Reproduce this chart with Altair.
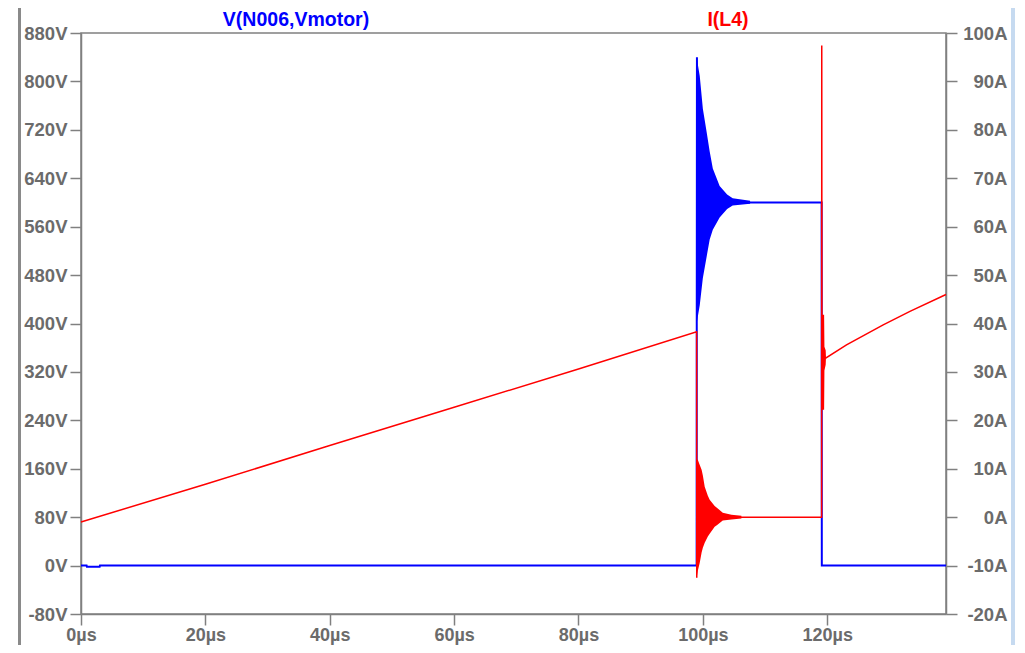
import altair as alt
import pandas as pd

# ---------------- data ----------------
# V(N006,Vmotor)  [V] vs time [us]
v_t = [0, 0.9, 0.95, 3.0, 3.05, 99.0, 99.02, 99.05, 99.1, 119.1, 119.13, 139.1]
v_val = [0, 0, -2, -2, 0, 0, 400, 840, 600, 600, 0, 0]

# ringing envelope of V after switch-off
vr_t = [99.0, 99.5, 100.0, 100.6, 101.1, 101.6, 102.7, 103.9, 104.8, 107.6]
vr_hi = [840, 809, 755, 717, 684, 656, 627, 613, 607, 603]
vr_lo = [400, 430, 475, 510, 539, 555, 575, 589, 595, 598]

# I(L4)  [A] vs time [us]
i_t = [0, 20, 40, 60, 80, 99.0, 99.02, 99.05, 119.1, 119.12, 119.15, 119.8,
       123.1, 129.0, 133.3, 139.1]
i_val = [-1.0, 6.8, 14.8, 22.7, 30.6, 38.3, -12.5, 0, 0, 97.4, 33.0, 32.9,
         35.6, 39.7, 42.5, 46.0]

# ringing envelope of I after switch-off
ir1_t = [99.0, 99.2, 99.5, 99.8, 100.0, 100.3, 100.8, 101.1, 101.9, 102.3, 103.2, 104.6, 106.2]
ir1_hi = [12.0, 11.8, 10.8, 9.8, 8.6, 6.3, 4.4, 3.6, 2.3, 1.9, 0.9, 0.5, 0.3]
ir1_lo = [-12.5, -11.0, -9.4, -7.3, -6.3, -5.3, -4.0, -3.4, -2.0, -1.6, -0.7, -0.5, -0.3]

# ringing envelope of I after switch-on
ir2_t = [119.1, 119.5, 119.55, 119.75, 119.8]
ir2_hi = [41.8, 41.8, 35.2, 34.5, 33.0]
ir2_lo = [22.2, 22.2, 30.3, 31.5, 33.0]

# axes
x_ticks = [0, 20, 40, 60, 80, 100, 120]
v_ticks = [-80, 0, 80, 160, 240, 320, 400, 480, 560, 640, 720, 800, 880]
i_ticks = [-20, -10, 0, 10, 20, 30, 40, 50, 60, 70, 80, 90, 100]
trace_names = ["V(N006,Vmotor)", "I(L4)"]

# ---------------- tables ----------------
v_df = pd.DataFrame({"t": v_t, "v": v_val, "i": range(len(v_t))})
vr_df = pd.DataFrame({"t": vr_t, "hi": vr_hi, "lo": vr_lo})
i_df = pd.DataFrame({"t": i_t, "a": i_val, "i": range(len(i_t))})
ir_df = pd.concat([
    pd.DataFrame({"t": ir1_t, "hi": ir1_hi, "lo": ir1_lo, "seg": "a"}),
    pd.DataFrame({"t": ir2_t, "hi": ir2_hi, "lo": ir2_lo, "seg": "b"}),
])

BLUE = "#0000ff"
RED = "#ff0000"
GRAY = "#808080"
LAB = "#6b6b6b"
FONT = "Liberation Sans"

common_axis = dict(
    domainColor=GRAY, tickColor=GRAY, domainWidth=1.5, tickWidth=1.5,
    tickSize=11, labelColor=LAB, labelFont=FONT,
    labelFontWeight="bold", grid=False, title=None, labelOverlap=False,
    labelFlush=False,
)

x_axis = alt.Axis(values=x_ticks, labelExpr="datum.value + 'µs'",
                  labelPadding=1, labelFontSize=18, orient="bottom", **common_axis)
x_enc = alt.X("t:Q", scale=alt.Scale(domain=[0, 139.1], nice=False, zero=False),
              axis=x_axis)

v_scale = alt.Scale(domain=[-80, 880], nice=False, zero=False)
v_axis = alt.Axis(values=v_ticks, labelExpr="datum.value + 'V'", orient="left",
                  labelPadding=3, labelFontSize=18.5, **common_axis)
i_scale = alt.Scale(domain=[-20, 100], nice=False, zero=False)
i_axis = alt.Axis(values=i_ticks, labelExpr="datum.value + 'A'", orient="right",
                  labelPadding=50, labelAlign="right", labelFontSize=18.5,
                  **common_axis)

v_band = alt.Chart(vr_df).mark_area(color=BLUE, opacity=1, strokeWidth=0).encode(
    x=x_enc,
    y=alt.Y("hi:Q", scale=v_scale, axis=v_axis),
    y2="lo:Q",
)
v_line = alt.Chart(v_df).mark_line(color=BLUE, strokeWidth=2).encode(
    x=x_enc,
    y=alt.Y("v:Q", scale=v_scale, axis=v_axis),
    order="i:Q",
)
i_band = alt.Chart(ir_df).mark_area(color=RED, opacity=1, strokeWidth=0).encode(
    x=x_enc,
    y=alt.Y("hi:Q", scale=i_scale, axis=i_axis),
    y2="lo:Q",
    detail="seg:N",
)
i_line = alt.Chart(i_df).mark_line(color=RED, strokeWidth=1.5).encode(
    x=x_enc,
    y=alt.Y("a:Q", scale=i_scale, axis=i_axis),
    order="i:Q",
)

title_df = pd.DataFrame({"name": [trace_names[0]]})
title_df2 = pd.DataFrame({"name": [trace_names[1]]})
v_title = alt.Chart(title_df).mark_text(
    color=BLUE, font=FONT, fontSize=19.5, fontWeight="bold",
    align="center", baseline="alphabetic",
).encode(x=alt.value(215), y=alt.value(-7), text="name:N")
i_title = alt.Chart(title_df2).mark_text(
    color=RED, font=FONT, fontSize=19.5, fontWeight="bold",
    align="center", baseline="alphabetic",
).encode(x=alt.value(647), y=alt.value(-7), text="name:N")

# window frame edges
left_edge = alt.Chart(title_df).mark_rule(color="#8a8a8a", strokeWidth=3).encode(
    x=alt.value(-61.5), y=alt.value(-40), y2=alt.value(620))
right_edge = alt.Chart(title_df).mark_rule(color="#c6daf0", strokeWidth=4).encode(
    x=alt.value(932), y=alt.value(-40), y2=alt.value(620))

chart = alt.layer(
    alt.layer(v_band, v_line),
    alt.layer(i_band, i_line),
    v_title, i_title, left_edge, right_edge,
).resolve_scale(y="independent").properties(
    width=865, height=581,
    autosize=alt.AutoSizeParams(type="none"),
    padding={"left": 73, "top": 25, "right": 70, "bottom": 31},
    background="white",
).configure_view(stroke=GRAY, strokeWidth=1.5)

chart.save("out.html", embed_options={"renderer": "svg", "actions": False})
